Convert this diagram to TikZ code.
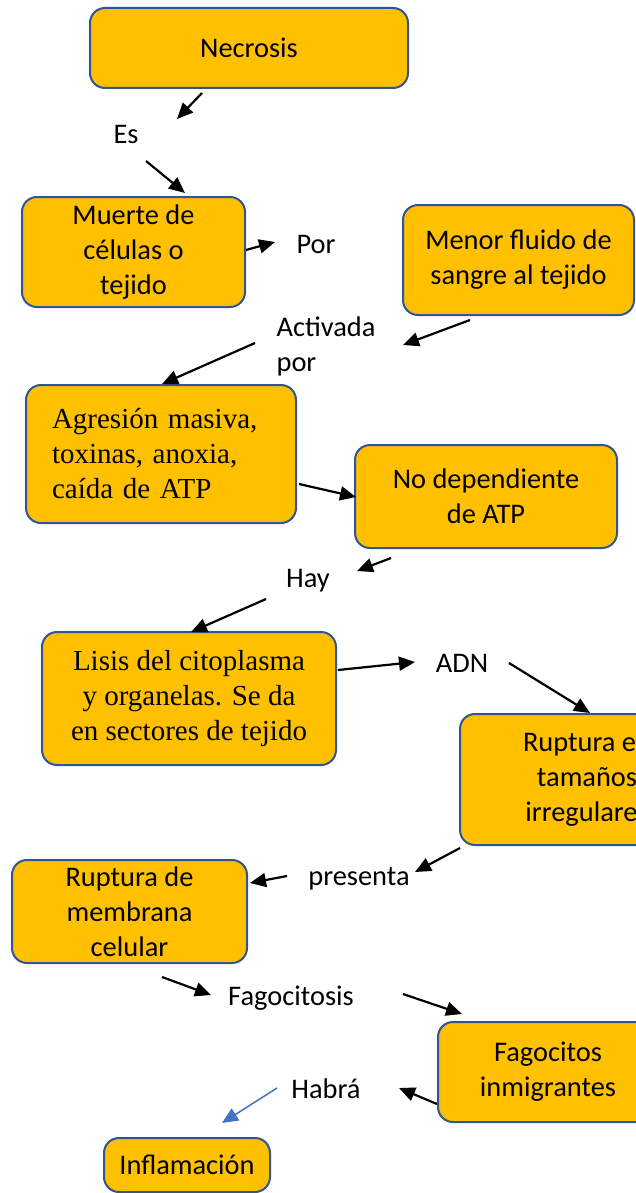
\documentclass[tikz,border=0pt]{standalone}
\usepackage{fontspec}
\setmainfont{Carlito}
\newfontfamily\romana{Liberation Serif}
\usetikzlibrary{arrows.meta}
\definecolor{naranja}{HTML}{FFC000}
\definecolor{borde}{HTML}{2F5597}
\definecolor{azul}{HTML}{4472C4}
\begin{document}
\begin{tikzpicture}[x=0.5pt, y=-0.5pt, font=\fontsize{14.2}{17.5}\selectfont, line join=round, >={Triangle[length=8pt,width=7pt]},
    caja/.style={draw=borde, line width=1pt, fill=naranja, rounded corners=7.5pt, align=center, inner sep=0pt},
    serif/.style={font=\romana\fontsize{14.5}{17.5}\selectfont},
    etiq/.style={inner sep=0pt, anchor=base},
    flecha/.style={->, line width=1.1pt}]
            \useasboundingbox (0,0) rectangle (636,1193);
            \clip (0,0) rectangle (636,1193);
            % cajas
            \node[caja, minimum width=159pt, minimum height=40pt] (nec) at (249,48) {Necrosis};
            \node[caja, minimum width=111.5pt, minimum height=55pt] (muerte) at (133.5,252) {Muerte de\\células o\\tejido};
            \node[caja, minimum width=115.5pt, minimum height=55pt] (menor) at (518.5,260) {Menor fluido de\\sangre al tejido};
            \node[caja, serif, align=left, text width=109pt, inner xsep=13pt, minimum height=69pt] (agr) at (161,454) {Agresión masiva,\\toxinas, anoxia,\\caída de ATP};
            \node[caja, minimum width=131pt, minimum height=51.5pt] (nodep) at (486,496.5) {No dependiente\\de ATP};
            \node[caja, serif, minimum width=147pt, minimum height=66.5pt] (lisis) at (189,698.5) {Lisis del citoplasma\\y organelas. Se da\\en sectores de tejido};
            \node[caja, minimum width=127pt, minimum height=65.5pt] (rupt) at (587,779.5) {Ruptura en\\tamaños\\irregulares};
            \node[caja, minimum width=117.5pt, minimum height=51.5pt] (memb) at (129.5,911.5) {Ruptura de\\membrana\\celular};
            \node[caja, minimum width=110pt, minimum height=50pt] (fago) at (548,1072) {Fagocitos\\inmigrantes};
            \node[caja, minimum width=83pt, minimum height=27pt] (infl) at (187,1165) {Inflamación};
            % palabras de enlace
            \node[etiq] (es) at (126,143) {Es};
            \node[etiq] (por) at (316,253) {Por};
            \node[inner sep=0pt, align=left] (activ) at (326,346) {Activada\\por};
            \node[etiq] (hay) at (308,587) {Hay};
            \node[etiq] (adn) at (462,672) {ADN};
            \node[etiq] (pres) at (359,885) {presenta};
            \node[etiq] (fagoc) at (291,1005) {Fagocitosis};
            \node[etiq] (habra) at (326,1098) {Habrá};
            % extremos de las flechas
            \coordinate (nec-s) at (202,93);   \coordinate (es-n) at (177,119);
            \coordinate (es-s) at (146,161);   \coordinate (muerte-n) at (185,193);
            \coordinate (muerte-e) at (246,250); \coordinate (por-w) at (275,242);
            \coordinate (menor-s) at (470,320); \coordinate (activ-e) at (403,345);
            \coordinate (activ-w) at (255,343); \coordinate (agr-n) at (162,384);
            \coordinate (agr-e) at (299,484);  \coordinate (nodep-w) at (356,497);
            \coordinate (nodep-s) at (391,558); \coordinate (hay-e) at (357,571);
            \coordinate (hay-w) at (266,599);  \coordinate (lisis-n) at (191,632);
            \coordinate (lisis-e) at (338,670); \coordinate (adn-w) at (415,662);
            \coordinate (adn-e) at (509,663);  \coordinate (rupt-n) at (590,713);
            \coordinate (rupt-w) at (460,848); \coordinate (pres-e) at (415,872);
            \coordinate (pres-w) at (287,876); \coordinate (memb-e) at (250,883);
            \coordinate (memb-s) at (162,977); \coordinate (fagoc-w) at (211,995);
            \coordinate (fagoc-e) at (403,994); \coordinate (fago-n) at (462,1014);
            \coordinate (fago-w) at (437,1104); \coordinate (habra-e) at (399,1088);
            \coordinate (habra-w) at (277,1088); \coordinate (infl-n) at (222,1123);
            % flechas
            \draw[flecha] (nec-s) -- (es-n);
            \draw[flecha] (es-s) -- (muerte-n);
            \draw[flecha] (muerte-e) -- (por-w);
            \draw[flecha] (menor-s) -- (activ-e);
            \draw[flecha] (activ-w) -- (agr-n);
            \draw[flecha] (agr-e) -- (nodep-w);
            \draw[flecha] (nodep-s) -- (hay-e);
            \draw[flecha] (hay-w) -- (lisis-n);
            \draw[flecha] (lisis-e) -- (adn-w);
            \draw[flecha] (adn-e) -- (rupt-n);
            \draw[flecha] (rupt-w) -- (pres-e);
            \draw[flecha] (pres-w) -- (memb-e);
            \draw[flecha] (memb-s) -- (fagoc-w);
            \draw[flecha] (fagoc-e) -- (fago-n);
            \draw[flecha] (fago-w) -- (habra-e);
            \draw[flecha, draw=azul, fill=azul, line width=0.75pt] (habra-w) -- (infl-n);
        \end{tikzpicture}
\end{document}
